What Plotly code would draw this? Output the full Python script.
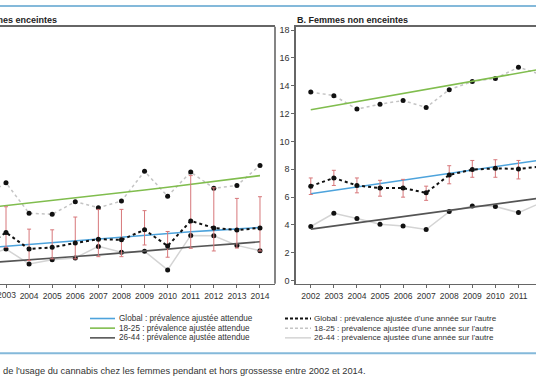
import plotly.graph_objects as go

W, H = 536, 386

# ---------------- data ----------------
years_a = list(range(2002, 2015))
years_b = list(range(2002, 2013))
tick_years = list(range(2002, 2015))
tick_labels = [str(y) for y in tick_years]
y_ticks_b = [0, 2, 4, 6, 8, 10, 12, 14, 16, 18]

# Panel A : femmes enceintes
a_global_fit = [2.33, 2.46, 2.60, 2.74, 2.88, 3.00, 3.13, 3.26, 3.39, 3.50, 3.60, 3.70, 3.81]
a_1825_fit = [5.20, 5.38, 5.55, 5.73, 5.92, 6.10, 6.30, 6.50, 6.70, 6.90, 7.10, 7.32, 7.54]
a_2644_fit = [1.25, 1.38, 1.50, 1.60, 1.72, 1.84, 1.96, 2.10, 2.25, 2.40, 2.50, 2.65, 2.78]
a_global = [2.30, 3.45, 2.26, 2.38, 2.69, 2.97, 2.92, 3.64, 2.48, 4.28, 3.78, 3.62, 3.78]
a_global_lo = [1.30, 2.38, 1.43, 1.55, 1.55, 1.71, 1.71, 2.55, 1.67, 2.31, 2.12, 2.33, 2.12]
a_global_hi = [4.00, 5.30, 3.69, 3.64, 4.56, 5.11, 5.11, 5.02, 3.52, 7.54, 6.66, 5.90, 6.02]
a_1825 = [6.00, 7.02, 4.83, 4.76, 5.66, 5.23, 5.71, 7.85, 6.06, 7.80, 6.63, 6.83, 8.27]
a_2644 = [1.70, 2.26, 1.19, 1.48, 1.62, 2.45, 2.03, 2.10, 0.76, 3.24, 3.21, 2.52, 2.14]

# Panel B : femmes non enceintes
b_global_fit = [6.23, 6.47, 6.72, 6.96, 7.20, 7.45, 7.69, 7.94, 8.18, 8.42, 8.67]
b_1825_fit = [12.27, 12.56, 12.85, 13.14, 13.43, 13.72, 14.00, 14.30, 14.60, 14.90, 15.20]
b_2644_fit = [3.69, 3.91, 4.14, 4.36, 4.59, 4.81, 5.04, 5.26, 5.49, 5.71, 5.94]
b_global = [6.78, 7.37, 6.83, 6.64, 6.64, 6.30, 7.59, 7.97, 8.06, 8.02, 8.20]
b_global_lo = [6.18, 6.83, 6.30, 6.06, 5.99, 5.76, 6.95, 7.42, 7.42, 7.30, 7.60]
b_global_hi = [7.37, 7.92, 7.37, 7.20, 7.27, 6.78, 8.25, 8.63, 8.68, 8.63, 8.80]
b_1825 = [13.55, 13.29, 12.32, 12.67, 12.94, 12.44, 13.72, 14.31, 14.53, 15.33, 14.80]
b_2644 = [3.88, 4.83, 4.45, 4.04, 3.92, 3.66, 4.95, 5.35, 5.31, 4.88, 5.60]

title_a = "A. Femmes enceintes"
title_b = "B. Femmes non enceintes"
x_title = "Année"
x_title_year = 2008
caption = "de l'usage du cannabis chez les femmes pendant et hors grossesse entre 2002 et 2014."
legend_left = ["Global : prévalence ajustée attendue",
               "18-25 : prévalence ajustée attendue",
               "26-44 : prévalence ajustée attendue"]
legend_right = ["Global : prévalence ajustée d'une année sur l'autre",
                "18-25 : prévalence ajustée d'une année sur l'autre",
                "26-44 : prévalence ajustée d'une année sur l'autre"]

# ---------------- styles ----------------
FONT = "Liberation Sans, Arial, sans-serif"
C_BLUE = "#4da3dc"
C_GREEN = "#80bd4e"
C_DGRAY = "#555555"
C_BLACK = "#111111"
C_LGRAY = "#c4c4c4"
C_LGRAY2 = "#d4d4d4"
C_RED = "#d7777a"
AX = "#666666"
Y_MIN, Y_MAX = -0.24, 18.24


def px_x(p):
    return p / W


def px_y(p):
    return 1 - p / H


fig = go.Figure()


def add_panel(xa, ya, years, fit_g, fit_1825, fit_2644, g, g_lo, g_hi, s1825, s2644):
    mk = dict(color=C_BLACK, size=5)
    fig.add_trace(go.Scatter(x=years, y=s2644, mode="lines+markers", xaxis=xa, yaxis=ya,
                             line=dict(color=C_LGRAY2, width=1.5), marker=mk, showlegend=False))
    fig.add_trace(go.Scatter(x=years, y=s1825, mode="lines+markers", xaxis=xa, yaxis=ya,
                             line=dict(color=C_LGRAY, width=1.5, dash="3px,3px"), marker=mk,
                             showlegend=False))
    fig.add_trace(go.Scatter(x=years, y=fit_g, mode="lines", xaxis=xa, yaxis=ya,
                             line=dict(color=C_BLUE, width=1.6), showlegend=False))
    fig.add_trace(go.Scatter(x=years, y=fit_1825, mode="lines", xaxis=xa, yaxis=ya,
                             line=dict(color=C_GREEN, width=1.6), showlegend=False))
    fig.add_trace(go.Scatter(x=years, y=fit_2644, mode="lines", xaxis=xa, yaxis=ya,
                             line=dict(color=C_DGRAY, width=1.6), showlegend=False))
    fig.add_trace(go.Scatter(
        x=years, y=g, mode="lines+markers", xaxis=xa, yaxis=ya,
        line=dict(color=C_BLACK, width=2, dash="3px,3px"), marker=mk,
        error_y=dict(type="data", symmetric=False,
                     array=[h - v for h, v in zip(g_hi, g)],
                     arrayminus=[v - l for v, l in zip(g, g_lo)],
                     color=C_RED, thickness=1, width=2),
        showlegend=False))
    # axis title "Année" as a text mark below the axis
    y_title = Y_MIN - (305 - 285) * (Y_MAX - Y_MIN) / (285 - 26)
    fig.add_trace(go.Scatter(x=[x_title_year], y=[y_title], mode="text", xaxis=xa, yaxis=ya,
                             text=["<b>" + x_title + "</b>"], textposition="middle center",
                             textfont=dict(family=FONT, size=9, color="#333333"),
                             cliponaxis=False, showlegend=False))


add_panel("x", "y", years_a, a_global_fit, a_1825_fit, a_2644_fit,
          a_global, a_global_lo, a_global_hi, a_1825, a_2644)
add_panel("x2", "y2", years_b, b_global_fit, b_1825_fit, b_2644_fit,
          b_global, b_global_lo, b_global_hi, b_1825, b_2644)

ydom = [px_y(285), px_y(26)]
tickfont = dict(family=FONT, size=8.5, color="#333333")
xcommon = dict(tickvals=tick_years, ticktext=tick_labels, ticks="outside", ticklen=3,
               tickcolor=AX, tickwidth=1, showline=True, linecolor=AX, linewidth=1.6,
               mirror=True, showgrid=False, zeroline=False, tickfont=tickfont, tickangle=0)

fig.update_layout(
    width=W, height=H,
    margin=dict(l=0, r=0, t=0, b=0),
    paper_bgcolor="white", plot_bgcolor="white",
    font=dict(family=FONT, color="#333333"),
    hovermode=False,
    xaxis=dict(domain=[0, px_x(275)], range=[2002.74, 2014.65], anchor="y", **xcommon),
    yaxis=dict(domain=ydom, range=[Y_MIN, Y_MAX], anchor="x", showline=False,
               showticklabels=False, ticks="", showgrid=False, zeroline=False),
    xaxis2=dict(domain=[px_x(296), 1], range=[2001.36, 2011.76], anchor="y2", **xcommon),
    yaxis2=dict(domain=ydom, range=[Y_MIN, Y_MAX], anchor="x2", showline=True,
                linecolor=AX, linewidth=1.6, mirror=False, ticks="outside", ticklen=3,
                tickcolor=AX, tickvals=y_ticks_b, showgrid=False, zeroline=False,
                tickfont=dict(family=FONT, size=9, color="#333333")),
)

shapes = []
# right border of panel A
shapes.append(dict(type="line", xref="paper", yref="paper", x0=px_x(275), x1=px_x(275),
                   y0=ydom[0], y1=ydom[1], line=dict(color=AX, width=1.6)))
# blue rules
for yy in (5, 355):
    shapes.append(dict(type="line", xref="paper", yref="paper", x0=0, x1=1,
                       y0=px_y(yy), y1=px_y(yy), line=dict(color="#84b9da", width=2)))

annotations = [
    # first year label of panel A, partly beyond the left edge of the page
    dict(text=tick_labels[1], xref="x", yref="paper", x=tick_years[1], y=px_y(289),
         xanchor="center", yanchor="top", showarrow=False, font=tickfont),
]

# manual legend
left_styles = [dict(color=C_BLUE, width=1.6), dict(color=C_GREEN, width=1.6),
               dict(color=C_DGRAY, width=1.6)]
right_styles = [dict(color=C_BLACK, width=2, dash="3px,2px"),
                dict(color=C_LGRAY, width=1.5, dash="3px,2px"),
                dict(color=C_LGRAY2, width=1.5)]
rows = [320, 329.7, 339.5]
for i, yy in enumerate(rows):
    shapes.append(dict(type="line", xref="paper", yref="paper", x0=px_x(90), x1=px_x(115),
                       y0=px_y(yy), y1=px_y(yy), line=left_styles[i]))
    annotations.append(dict(text=legend_left[i], xref="paper", yref="paper", x=px_x(117),
                            y=px_y(yy), xanchor="left", yanchor="middle", showarrow=False,
                            font=dict(family=FONT, size=8.2, color="#333333")))
    shapes.append(dict(type="line", xref="paper", yref="paper", x0=px_x(285), x1=px_x(311),
                       y0=px_y(yy), y1=px_y(yy), line=right_styles[i]))
    annotations.append(dict(text=legend_right[i], xref="paper", yref="paper", x=px_x(312),
                            y=px_y(yy), xanchor="left", yanchor="middle", showarrow=False,
                            font=dict(family=FONT, size=8.1, color="#333333")))

annotations += [
    dict(text="<b>" + title_a + "</b>", xref="paper", yref="paper", x=px_x(59), y=px_y(19),
         xanchor="right", yanchor="middle", showarrow=False,
         font=dict(family=FONT, size=9, color="#222222")),
    dict(text="<b>" + title_b + "</b>", xref="paper", yref="paper", x=px_x(295), y=px_y(19),
         xanchor="left", yanchor="middle", showarrow=False,
         font=dict(family=FONT, size=9, color="#222222")),
    dict(text=caption, xref="paper", yref="paper", x=px_x(1), y=px_y(373),
         xanchor="left", yanchor="middle", showarrow=False,
         font=dict(family=FONT, size=9.3, color="#333333")),
]

fig.update_layout(shapes=shapes, annotations=annotations)
fig.write_html("out.html", config={"displayModeBar": False, "staticPlot": True},
               post_script="document.body.style.margin='0';document.body.style.overflow='hidden';")
